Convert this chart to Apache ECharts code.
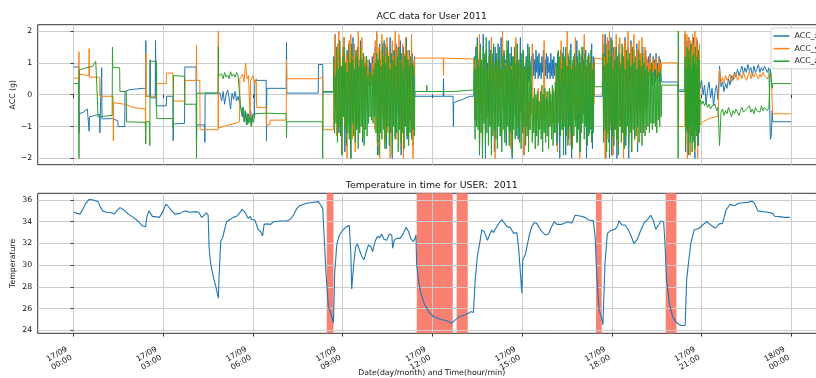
<!DOCTYPE html>
<html><head><meta charset="utf-8">
<script src="https://cdn.jsdelivr.net/npm/echarts@6/dist/echarts.min.js"></script>
<style>html,body{margin:0;padding:0;background:#fff}#c{width:816px;height:378px}</style>
</head><body><div id="c"></div>
<script>
// ---------------- DATA ----------------
const xTickHours = [0, 3, 6, 9, 12, 15, 18, 21, 24];
const xTickLabels = ['17/09\n00:00','17/09\n03:00','17/09\n06:00','17/09\n09:00','17/09\n12:00','17/09\n15:00','17/09\n18:00','17/09\n21:00','18/09\n00:00'];
const accTicks = [-2, -1, 0, 1, 2];
const tempTicks = [24, 26, 28, 30, 32, 34, 36];
const seriesNames = ['ACC_x', 'ACC_y', 'ACC_z'];

// temperature [hour, degC]
const temperature = [
[0,34.87],[0.12,34.77],[0.21,34.7],[0.30,35.1],[0.41,35.7],[0.52,36.06],[0.66,36.0],[0.82,35.85],[0.88,35.45],[0.97,35.0],
[1.10,34.87],[1.27,34.83],[1.36,34.7],[1.44,35.0],[1.55,35.3],[1.68,35.1],[1.83,34.7],[2.0,34.4],[2.11,34.16],[2.22,33.85],
[2.31,33.6],[2.41,33.55],[2.45,34.47],[2.52,35.0],[2.58,34.9],[2.64,34.47],[2.72,34.47],[2.87,34.4],[2.98,34.93],[3.09,35.63],
[3.17,35.4],[3.28,35.0],[3.39,34.7],[3.56,34.77],[3.72,35.0],[3.89,34.87],[4.06,34.93],[4.19,34.87],[4.28,34.4],[4.37,34.6],
[4.43,34.83],[4.50,34.6],[4.53,31.7],[4.58,30.2],[4.67,28.95],[4.76,28.0],[4.84,26.95],[4.87,29.25],[4.92,32.2],[4.98,32.5],
[5.06,33.4],[5.12,34.0],[5.23,34.2],[5.34,34.4],[5.45,34.5],[5.54,34.77],[5.64,35.14],[5.73,34.87],[5.84,34.3],[5.90,34.5],
[5.95,34.2],[6.06,34.16],[6.18,33.24],[6.25,33.1],[6.32,32.7],[6.37,33.76],[6.45,33.8],[6.59,33.76],[6.68,34.0],[6.90,34.07],
[7.12,34.07],[7.24,34.2],[7.35,34.6],[7.46,35.2],[7.57,35.5],[7.8,35.7],[8.02,35.8],[8.19,35.85],[8.24,35.63],[8.33,35.23],
[8.38,32.6],[8.44,29.25],[8.52,26.2],[8.60,25.57],[8.69,24.65],[8.73,29.25],[8.80,31.86],[8.89,32.78],[9.0,33.24],[9.13,33.55],
[9.22,33.64],[9.27,31.1],[9.30,27.8],[9.36,29.87],[9.43,31.7],[9.49,31.95],[9.56,31.4],[9.64,30.8],[9.71,30.5],[9.78,31.15],
[9.86,31.86],[9.94,31.7],[10.0,31.25],[10.08,32.17],[10.16,32.63],[10.25,32.56],[10.30,32.87],[10.38,32.38],[10.47,32.3],[10.56,32.87],
[10.64,32.78],[10.67,31.55],[10.72,32.3],[10.81,32.47],[10.92,32.47],[11.03,32.93],[11.12,33.48],[11.20,33.1],[11.27,32.47],[11.36,32.17],
[11.42,32.47],[11.45,32.78],[11.47,30.17],[11.53,28.64],[11.61,27.41],[11.72,26.49],[11.87,25.72],[12.03,25.26],[12.26,25.02],[12.48,24.87],
[12.65,24.65],[12.76,24.96],[12.92,25.26],[13.09,25.42],[13.20,25.57],[13.28,25.72],[13.37,25.63],[13.43,28.64],[13.50,30.8],[13.59,32.17],
[13.65,33.24],[13.73,33.09],[13.79,33.24],[13.84,32.3],[13.93,32.93],[13.98,33.24],[14.04,33.0],[14.15,33.55],[14.26,34.0],[14.32,34.2],
[14.40,33.9],[14.49,33.55],[14.60,33.48],[14.71,32.93],[14.82,33.0],[14.88,31.7],[14.93,29.7],[14.99,27.41],[15.02,30.48],[15.10,30.94],
[15.15,31.55],[15.24,32.78],[15.32,33.55],[15.40,33.9],[15.49,33.85],[15.58,33.4],[15.66,33.09],[15.77,32.78],[15.88,32.87],[15.96,33.4],
[16.07,34.0],[16.16,33.76],[16.33,33.76],[16.44,33.9],[16.55,34.0],[16.66,33.85],[16.77,34.6],[16.83,34.47],[16.94,34.53],[17.10,34.4],
[17.22,34.16],[17.38,34.1],[17.44,32.6],[17.49,29.25],[17.57,25.9],[17.66,25.1],[17.70,24.5],[17.77,30.2],[17.85,32.93],[17.96,33.18],
[18.10,33.3],[18.18,33.55],[18.24,34.1],[18.33,33.7],[18.44,33.7],[18.52,33.4],[18.63,32.78],[18.74,32.0],[18.85,32.38],[18.97,33.24],
[19.08,33.9],[19.19,34.2],[19.30,34.6],[19.38,34.16],[19.47,33.3],[19.56,33.7],[19.64,34.07],[19.73,34.0],[19.77,32.3],[19.83,28.64],
[19.92,26.5],[20.03,25.26],[20.16,24.7],[20.31,24.44],[20.45,24.44],[20.50,28.64],[20.56,30.17],[20.64,32.0],[20.75,33.24],[20.92,33.4],
[21.03,33.7],[21.17,34.0],[21.31,33.7],[21.46,33.4],[21.59,33.8],[21.70,33.85],[21.82,35.08],[21.95,35.6],[22.10,35.48],[22.24,35.7],
[22.37,35.75],[22.54,35.78],[22.69,35.9],[22.77,35.7],[22.88,35.0],[23.04,34.93],[23.21,34.87],[23.38,34.77],[23.44,34.5],[23.60,34.47],
[23.77,34.4],[23.96,34.4]
];

// shaded (red) periods [startHour, endHour]
const redZones = [[8.465, 8.69], [11.475, 12.68], [12.81, 13.18], [17.47, 17.66], [19.80, 20.16]];

// accelerometer: densely sampled bursts [startHour, endHour] and their readings
const burstSpans = [[8.7, 11.4], [13.4, 17.4], [17.7, 19.65], [20.45, 20.93], [20.95, 23.3]];

const accXSteps = [
[0,0.87],[0.17,0.87],[0.18,-1.2],[0.19,-0.6],[0.32,-0.55],[0.46,-0.45],[0.51,-0.5],[0.52,-1.15],[0.53,-0.7],[0.7,-0.65],
[0.87,-0.62],[0.88,-1.2],[0.89,-0.75],[0.93,-0.75],[0.94,0.85],[0.95,-0.76],[1.3,-0.75],[1.31,-0.8],[1.48,-0.82],[1.49,-1.0],
[1.71,-1.0],[1.72,0.1],[1.85,0.15],[2.1,0.18],[2.33,0.2],[2.41,0.2],[2.415,1.7],[2.42,-0.05],[2.55,-0.05],[2.56,1.1],
[2.57,-0.1],[2.73,-0.1],[2.74,1.7],[2.76,-0.35],[3.1,-0.35],[3.11,-0.05],[3.32,-0.05],[3.33,-1.45],[3.34,-0.92],[3.71,-0.9],
[3.72,0.87],[4.1,0.87],[4.11,-1.5],[4.12,-0.95],[4.38,-0.95],[4.39,-1.5],[4.4,0.05],[4.78,0.05],[4.84,0.1],[4.9,0.05],
[4.95,-0.2],[5.0,0.1],[5.05,-0.3],[5.1,0.0],[5.15,0.15],[5.2,-0.1],[5.25,-0.45],[5.3,0.05],[5.35,-0.15],[5.4,0.1],
[5.45,-0.2],[5.5,-0.05],[5.56,-0.3],[5.6,-0.45],[5.64,-0.7],[5.68,-0.4],[5.72,-0.85],[5.76,-0.55],[5.8,-0.95],[5.84,-0.6],
[5.88,-0.8],[5.92,-0.5],[5.96,-0.9],[6.0,-0.6],[6.05,-0.7],[6.06,0.45],[6.44,0.45],[6.45,-1.45],[6.46,0.2],[7.11,0.2],
[7.12,1.65],[7.13,0.05],[8.18,0.05],[8.19,0.95],[8.33,0.95],[8.34,0.08],[8.69,0.08],
[11.41,-0.05],[12.36,-0.05],[12.37,0.5],[12.38,-0.05],[12.69,-0.05],[12.7,-1.0],[12.71,-0.25],[13.0,-0.15],[13.26,-0.05],[13.38,-0.05],
[17.42,-0.05],[17.68,-0.05],
[19.67,0.4],[20.21,0.4],[20.22,0.15],[20.44,0.15],
[23.33,-1.3],[23.36,-0.5],[23.38,-0.85],[23.99,-0.85]
];
const accXBursts = [
[1.2,0.3,1.9,-0.4,1.5,0.6,1.1,-1.2,1.7,0.4, 0.9,-0.6,1.3,0.2,1.8,-1.8,1.0,0.5,1.4,-0.9, 1.6,0.3,1.0,-2.0,1.4,0.6,1.8,-0.3,0.8,0.2,
 1.2,-1.1,1.5,0.4,1.1,-0.8,1.7,0.3,0.9,-1.5, 1.3,0.5,1.0,-0.2,1.2,0.4,0.9,0.3,1.1,0.5, 1.0,0.4,1.2,0.6,1.3,-0.7,1.5,0.2,1.9,-1.9,
 1.1,0.4,1.6,-1.2,1.0,0.5,1.4,-0.4,1.7,0.1, 0.9,-1.7,1.3,0.6,1.2,-0.5,1.8,0.3,1.0,-2.0, 1.4,0.2,1.1,-1.3,1.6,0.5,0.9,-0.6,1.3,0.4,
 1.7,-1.9,1.0,0.3,1.5,-1.0,1.2,0.6,1.8,-1.4, 1.1,0.2,1.4,-0.8,1.0,0.5,1.3,-1.6,0.9,1.2],
[0.9,-0.8,1.5,0.2,1.8,0.5,1.1,-1.9,1.6,0.4, 0.8,-1.2,1.9,0.3,1.2,-2.0,1.4,0.5,1.0,-0.6, 1.7,0.2,0.9,-1.5,1.3,0.4,1.1,-1.8,1.5,0.6,
 1.0,-0.9,1.6,0.3,1.2,-1.3,1.8,0.5,0.9,-0.4, 1.3,0.6,1.1,-1.6,1.4,0.2,1.7,-1.1,1.0,0.5, 1.5,-2.0,1.2,0.4,0.9,-0.7,1.6,0.3,1.3,-1.4,
 1.0,0.6,1.8,-0.5,1.1,0.2,1.4,-1.9,0.9,0.5, 1.2,-1.0,1.6,0.4,1.3,0.6,1.0,
 1.2,0.5,1.3,0.6,1.1,0.5,1.4,0.7,1.2,0.5, 1.3,0.6,1.0,0.5,1.2,0.7,1.4,0.5,1.1,0.6, 1.3,0.5,1.2,0.7,1.0,0.5,1.3,0.6,1.1,0.5, 1.2,0.6,1.0,
 0.8,-1.6,1.3,0.4,1.1,-2.0,1.4,0.6,1.0,-1.1, 1.5,0.3,1.2,-1.9,0.9,0.5,1.3,-1.4,1.1,0.4, 1.6,-2.0,1.0,0.6,1.2,-0.8,1.1,0.4,1.7,-1.5,
 1.0,0.5,1.3,-1.8,1.2,0.3,1.5,-0.6,0.9,0.5, 1.4,-2.0,1.1,0.6,1.3,-1.2,1.0,0.4,1.6,-1.7, 1.2,0.5],
[1.6,-1.3,0.9,1.9,-2.0,1.2,0.5,1.7,-1.5,1.0, 0.4,1.8,-1.9,1.1,0.6,1.5,-1.1,0.9,1.4,-2.0, 1.2,0.3,1.6,-0.8,1.0,0.5,1.3,-1.2,1.1,0.6,
 1.8,-1.6,1.0,0.4,1.5,-2.0,1.2,0.5,1.7,-0.9, 0.9,0.3,1.4,-1.4,1.1,0.6,1.6,-1.8,1.0,0.4, 1.3,-0.7,1.2,0.5,1.5,-1.2,0.9,0.6,1.4,-0.5,
 1.1,0.4,1.2,0.6,1.3,0.5,1.0,0.3,1.2,0.6, 1.1,0.4,1.3,0.5,1.0,0.6,1.2,0.4,1.1,0.5],
[1.9,-1.8,1.3,0.4,1.7,-2.0,1.0,0.6,1.8,-1.2,1.4,-1.9,1.1,0.5,1.6,-0.8,1.2,-1.5,1.8,0.3,1.0,-2.0,1.5,0.6,1.3,-1.1,1.7,0.4,1.1,-1.6,1.4,0.5],
[0.2,0.45,0.0,0.3,-0.3,0.15,0.4,-0.1,0.2,-0.35,0.1,0.3,-0.15,0.9,
 0.25,0.4,0.1,0.35,0.2,0.5,0.3,0.6,0.45,0.7,0.55,0.8,0.6,0.75,0.9,0.65,0.85,0.7,0.95,0.75,0.85,0.6,0.9,0.7,0.8,0.95,0.7,0.85,0.75,0.9,0.8,0.7,0.85,-1.4]
];

const accYSteps = [
[0,0.52],[0.17,0.52],[0.18,1.35],[0.185,0.4],[0.19,0.65],[0.51,0.6],[0.52,1.45],[0.53,0.55],[0.87,0.55],[0.88,-0.05],
[1.32,-0.05],[1.33,-1.45],[1.34,-0.25],[1.71,-0.3],[1.72,-0.35],[2.0,-0.4],[2.4,-0.45],[2.41,-1.5],[2.415,1.3],[2.42,-0.05],
[2.77,-0.05],[2.78,0.35],[3.1,0.35],[3.11,0.68],[3.32,0.68],[3.33,-0.2],[3.71,-0.2],[3.72,0.45],[4.1,0.45],[4.11,1.55],
[4.12,0.45],[4.22,0.45],[4.23,-1.1],[4.83,-1.1],[4.84,2.0],[4.85,-1.05],[5.0,-1.0],[5.2,-0.95],[5.4,-0.9],[5.55,-0.85],
[5.56,0.5],[5.6,0.45],[5.65,0.65],[5.7,0.4],[5.75,1.0],[5.8,0.5],[5.85,0.6],[5.9,-0.8],[5.92,0.45],[6.0,0.6],
[6.05,0.35],[6.11,0.5],[6.12,-0.4],[6.44,-0.4],[6.45,-0.95],[6.56,-0.95],[6.57,-0.8],[7.11,-0.8],[7.12,1.1],[7.13,0.5],
[8.18,0.5],[8.33,0.55],[8.34,-1.1],[8.69,-1.1],
[11.41,1.15],[12.36,1.15],[12.37,0.6],[12.38,1.15],[13.38,1.12],
[17.42,1.15],[17.68,1.12],
[19.67,1.0],[20.21,1.0],[20.22,-1.0],[20.44,-1.0],
[23.33,0.65],[23.36,-0.3],[23.38,-0.6],[23.99,-0.6]
];
const accYBursts = [
[1.0,-0.3,1.9,0.4,-1.3,1.6,0.7,2.0,-0.8,1.2, 0.3,-1.9,1.5,0.8,1.8,-1.0,0.6,1.3,-2.0,1.1, 0.4,1.7,-0.6,1.9,0.2,-1.4,1.2,0.9,1.6,-1.8,
 0.7,1.4,-0.9,2.0,0.5,-1.2,1.1,0.6,1.8,-0.4, 0.9,1.2,0.3,1.0,0.6,-0.5,1.1,0.4,0.8,0.5, 0.7,0.3,1.0,0.5,1.3,-1.1,1.7,0.2,2.0,-1.6,
 0.8,1.5,-2.0,1.1,0.4,1.9,-0.7,1.3,0.6,-1.5, 1.6,0.3,1.8,-1.2,0.9,1.4,-2.0,1.0,0.5,1.7, -0.9,1.2,0.7,2.0,-1.4,0.8,1.5,-0.3,1.9,0.2,
 -1.7,1.1,0.6,1.6,-2.0,1.3,0.4,1.8,-1.0,0.9, 1.4,-1.6,0.7,1.2,-0.5,1.9,0.3,-2.0,1.0,0.6],
[0.9,-0.4,1.1,0.2,-0.8,0.7,0.3,1.9,-0.6,0.8, 1.0,-1.9,0.5,0.9,-0.3,1.1,0.2,-0.7,0.8,0.4, 1.0,-0.9,0.3,1.8,-0.5,0.9,0.1,1.0,-2.0,0.7,
 0.4,1.1,-0.6,0.6,0.9,-0.8,0.7,0.2,2.0,-0.4, 0.8,0.5,1.0,-0.7,0.6,0.9,-0.2,1.1,0.3,-1.7, 0.9,0.6,1.0,-0.5,0.7,0.3,1.8,-0.9,0.8,0.5,
 1.0,-0.6,0.6,0.9,-0.4,1.1,0.2,-1.9,0.8,0.4, -0.3,-1.0,0.1,-0.7,-0.2,-1.1,0.0,-0.6,1.6,-0.4, -0.9,0.1,-0.5,-1.2,-0.1,-0.8,0.2,-0.6,-1.0,-0.2,
 -0.7,0.0,-1.1,-0.3,1.7,-0.5,-0.9,0.1,-0.6,-0.2, -0.4,-1.0,0.1,-0.7,-0.2,-0.9,0.2,-0.5,-1.1,0.0, 0.9,0.2,-1.8,0.8,1.0,-0.4,0.6,1.7,-0.7,0.9,
 0.4,1.1,-0.9,0.7,0.3,2.0,-0.5,0.8,1.0,-1.6, 0.6,0.9,-0.3,1.1,0.5,-0.8,1.8,0.4,0.9,-0.6, 1.0,0.3,-2.0,0.8,0.6,1.1,-0.5,0.9,1.9,-0.7,
 0.8,0.4,1.0,-0.9,0.7,1.2,-0.4,0.9,0.5,1.0, 0.7,-0.3],
[1.9,-0.6,1.2,-2.0,1.6,0.4,1.8,-1.4,0.9,2.0, -1.1,1.3,0.2,1.7,-1.9,1.0,1.5,-0.8,1.9,0.3, -1.6,1.2,0.7,1.8,-1.0,1.1,0.4,1.5,-2.0,0.9,
 1.7,-0.5,1.3,0.6,2.0,-1.3,1.0,0.8,1.6,-1.8, 1.2,0.4,1.9,-0.9,1.1,0.6,1.4,-1.5,0.8,1.7, -0.7,1.3,0.5,1.8,-1.2,1.0,0.7,1.5,-0.4,1.2,
 1.1,0.5,1.0,0.6,1.2,0.4,0.9,0.7,1.1,0.6, 1.0,0.8,1.2,0.5,0.9,0.7,1.1,0.6,1.0,0.8],
[2.0,-1.5,1.6,0.8,1.9,-2.0,1.3,1.0,1.8,-1.2,1.5,-1.9,1.7,0.9,1.4,-1.0,1.9,-0.6,1.2,1.6,-1.8,2.0,0.7,1.5,-1.3,1.8,0.9,-2.0,1.4,1.1,-0.8,1.6],
[-0.95,-0.9,-0.85,-0.9,-0.8,-0.85,-0.75,-0.8,-0.72,-0.78,-0.7,-0.75,-0.68,0.8,
 0.4,0.55,0.35,0.6,0.45,0.5,0.65,0.4,0.6,0.5,0.7,0.45,0.55,0.65,0.5,0.7,0.55,0.45,0.6,0.75,0.5,0.65,0.55,0.7,0.6,0.5,0.65,0.55,0.7,0.6,0.65,0.5,0.6,0.65]
];

const accZSteps = [
[0,0.35],[0.17,0.35],[0.18,-2.0],[0.19,0.78],[0.45,0.85],[0.65,0.9],[0.74,1.05],[0.75,0.88],[0.81,0.9],[0.82,-0.7],
[0.83,-0.65],[1.29,-0.65],[1.3,1.5],[1.31,0.85],[1.54,0.85],[1.55,0.1],[1.76,0.1],[1.77,-0.85],[2.4,-0.87],[2.41,-1.55],
[2.42,-0.85],[2.53,-0.85],[2.55,-1.6],[2.56,1.05],[2.77,1.05],[2.78,-0.75],[3.32,-0.75],[3.33,-1.05],[3.34,0.6],[3.71,0.58],
[3.72,-0.3],[4.1,-0.3],[4.11,-2.0],[4.12,0.05],[4.83,0.05],[4.84,1.5],[4.85,0.6],[4.9,0.55],[4.95,0.65],[5.0,0.5],
[5.05,0.7],[5.1,0.55],[5.15,0.62],[5.2,0.5],[5.25,0.72],[5.3,0.58],[5.35,0.65],[5.4,0.55],[5.45,0.7],[5.5,0.6],
[5.55,0.62],[5.58,-0.3],[5.62,-0.6],[5.66,-0.4],[5.7,-0.85],[5.74,-0.5],[5.78,-0.95],[5.82,-0.6],[5.86,-0.9],[5.9,-0.7],
[5.94,-1.0],[5.98,-0.65],[6.02,-0.85],[6.06,-0.6],[6.1,-0.55],[6.45,-0.58],[6.46,-0.6],[7.11,-0.6],[7.12,-1.35],[7.13,-0.85],
[8.32,-0.85],[8.33,-2.0],[8.34,0.1],[8.69,0.1],
[11.41,0.1],[11.8,0.1],[11.81,0.3],[11.82,0.1],[12.69,0.1],[12.7,0.15],[13.38,0.15],
[17.42,0.25],[17.68,0.25],
[19.67,0.3],[20.21,0.3],[20.215,-2.0],[20.22,2.0],[20.225,0.1],[20.44,0.1],
[23.33,0.8],[23.36,0.2],[23.38,0.35],[23.99,0.35]
];
const accZBursts = [
[1.1,-1.2,0.6,-0.9,1.4,-1.5,0.8,-1.0,1.7,-1.3, 0.9,-1.9,1.2,-0.7,1.5,-1.1,1.0,-1.6,0.7,-1.2, 1.3,-1.4,1.0,-2.0,1.6,-0.9,1.1,-1.3,0.8,-1.5,
 1.4,-1.1,1.2,-1.7,0.9,-1.2,1.5,-1.0,1.1,-1.4, 1.3,-1.6,0.9,-1.1,1.2,-1.3,0.6,-0.9,0.8,-0.7, 0.7,-0.8,0.6,-0.9,0.8,-0.7,1.0,-1.2,1.3,-1.5,
 1.1,-1.9,1.4,-1.2,0.9,-1.4,1.6,-1.1,1.2,-1.7, 1.0,-1.3,1.5,-1.0,1.2,-1.6,0.8,-1.2,1.3,-1.9, 1.1,-1.0,1.4,-1.4,0.9,-1.2,1.2,-1.8,1.5,-1.1,
 1.0,-1.5,1.3,-1.2,0.8,-1.7,1.2,-1.0,1.4,-1.3, 1.1,-1.6,0.9,-1.2,1.2,-1.4,1.0,-1.1,0.9,-1.3],
[1.2,-1.4,0.8,-1.0,1.6,-1.1,0.9,-1.8,1.4,-1.2, 1.1,-2.0,1.5,-0.9,1.3,-1.5,1.8,-1.2,0.8,-1.6, 1.2,-1.0,1.4,-1.9,1.0,-1.3,1.6,-1.1,0.9,-1.4,
 1.3,-1.7,1.1,-1.0,1.5,-1.3,0.8,-1.8,1.2,-1.1, 1.4,-1.5,0.9,-1.2,1.7,-1.0,1.1,-1.6,1.3,-1.2, 0.8,-1.9,1.2,-1.1,1.5,-1.4,1.0,-1.3,1.6,-1.0,
 1.1,-1.5,0.9,-1.7,1.3,-1.2,1.4,-1.0,0.8,-1.6, 1.2,-1.3,1.0,-1.8,1.5,-1.1,0.9,
 0.1,-1.5,-0.1,-1.2,0.2,-1.7,0.0,-1.3,0.1,-1.6, -0.2,-1.1,0.1,-1.4,0.3,-1.8,0.0,-1.2,0.2,-1.5, -0.1,-1.3,0.1,-1.7,0.2,-1.0,0.0,-1.4,0.3,-1.6, 0.1,-1.2,0.4,
 -1.2,1.0,-1.5,1.4,-0.9,1.2,-1.3,0.8,-1.1,1.3, -1.9,1.1,-1.0,1.5,-1.3,0.9,-1.6,1.2,-1.0,1.4, -1.2,0.8,-1.7,1.1,-1.3,1.3,-1.0,0.9,-1.5,1.2,
 -1.1,1.4,-1.8,1.0,-1.2,1.5,-0.9,1.1,-1.4,1.3, -1.0,0.9,-1.6,1.2,-1.3,1.0,-1.1,1.4,-1.5,0.8,-1.2,1.0],
[1.3,-1.5,0.9,-1.1,1.6,-1.8,1.0,-1.2,1.4,-2.0, 1.2,-0.9,1.7,-1.3,0.8,-1.6,1.1,-1.1,1.5,-1.4, 1.0,-1.9,1.3,-1.0,0.9,-1.5,1.6,-1.2,1.2,-1.7,
 0.8,-1.3,1.4,-1.0,1.1,-1.6,1.3,-1.2,0.9,-1.8, 1.5,-1.1,1.0,-1.4,1.2,-1.3,0.8,-1.0,1.4,-1.5, 1.1,-1.2,0.9,-1.6,1.3,-1.0,1.0,-1.3,0.8,-1.1,
 0.9,-1.0,0.7,-1.2,0.8,-0.9,1.0,-1.1,0.7,-0.9, 0.8,-1.0,0.6,-1.2,0.9,-0.8,0.7,-1.0,0.8,-0.7],
[1.2,-1.6,0.8,-1.1,1.5,-1.2,0.9,-1.9,1.4,-1.0,1.1,-1.5,1.6,-1.3,0.8,-1.8,1.2,-0.9,1.3,-1.4,1.0,-1.7,1.5,-1.1,0.9,-1.3,1.2,-1.6,1.4,-1.0,1.1,-1.2],
[-0.15,-0.3,-0.2,-0.35,-0.25,-0.4,-0.3,-0.45,-0.35,-0.4,-0.3,-0.5,-0.4,-1.6,
 -0.55,-0.45,-0.65,-0.5,-0.6,-0.4,-0.55,-0.7,-0.5,-0.6,-0.45,-0.55,-0.65,-0.5,-0.4,-0.55,-0.6,-0.45,-0.5,-0.35,-0.55,-0.45,-0.6,-0.4,-0.5,-0.45,-0.55,-0.35,-0.5,-0.4,-0.45,-0.5,-0.4,0.8]
];

// ---------------- BUILD ----------------
function buildAcc(steps, bursts) {
  const pts = steps.map(p => [p[0], p[1]]);
  bursts.forEach((vals, k) => {
    const a = burstSpans[k][0], b = burstSpans[k][1];
    const dt = (b - a) / (vals.length - 1);
    vals.forEach((v, i) => pts.push([a + i * dt, v]));
  });
  pts.sort((p, q) => p[0] - q[0]);
  return pts;
}

const FONT = 'DejaVu Sans';
const TXT = '#111';
const GRIDC = '#cdcdcd';
const AX = '#333';
const X_MIN = -1.2, X_MAX = 25.15;
const COLORS = ['#1f77b4', '#ff7f0e', '#2ca02c'];

function xAxisDef(gi, labels) {
  return {
    type: 'value', gridIndex: gi, min: X_MIN, max: X_MAX, z: 1.5,
    axisLine: { show: false },
    axisTick: { show: true, customValues: xTickHours, length: 3.3, lineStyle: { color: AX, width: 1 } },
    axisLabel: {
      show: labels, customValues: xTickHours, rotate: 30, margin: 17,
      padding: [0, 5.2, 21, 0],
      formatter: v => { const i = xTickHours.indexOf(Math.round(v)); return i >= 0 ? xTickLabels[i] : ''; },
      fontFamily: FONT, fontSize: 7.8, lineHeight: 9.4, color: TXT
    },
    splitLine: { show: true, lineStyle: { color: GRIDC, width: 1 } },
    name: labels ? 'Date(day/month) and Time(hour/min)' : '',
    nameLocation: 'middle', nameGap: 35.5, nameMoveOverlap: false,
    nameTextStyle: { fontFamily: FONT, fontSize: 7.8, color: TXT }
  };
}
function yAxisDef(gi, min, max, ticks, name) {
  return {
    type: 'value', gridIndex: gi, min: min, max: max, z: 1.5,
    axisLine: { show: false },
    axisTick: { show: true, customValues: ticks, length: 3, lineStyle: { color: AX, width: 1 } },
    axisLabel: {
      customValues: ticks, margin: 5.5,
      formatter: v => String(Math.round(v)).replace('-', '\u2212'),
      fontFamily: FONT, fontSize: 7.8, color: TXT
    },
    splitLine: { show: true, lineStyle: { color: GRIDC, width: 1 } },
    name: name, nameLocation: 'middle', nameGap: 21, nameMoveOverlap: false,
    nameTextStyle: { fontFamily: FONT, fontSize: 7.8, color: TXT }
  };
}

const accSets = [[accXSteps, accXBursts], [accYSteps, accYBursts], [accZSteps, accZBursts]];
const series = accSets.map((s, i) => ({
  name: seriesNames[i], type: 'line', xAxisIndex: 0, yAxisIndex: 0,
  data: buildAcc(s[0], s[1]), showSymbol: false, symbol: 'none', z: 2,
  color: COLORS[i], lineStyle: { width: 1, color: COLORS[i] }
}));
series.push({
  name: 'Temperature', type: 'line', xAxisIndex: 1, yAxisIndex: 1,
  data: temperature, showSymbol: false, symbol: 'none', z: 2,
  color: COLORS[0], lineStyle: { width: 1.1, color: COLORS[0] },
  markArea: {
    silent: true, z: 1,
    itemStyle: { color: '#fa8072', opacity: 1 },
    data: redZones.map(z => [{ xAxis: z[0] }, { xAxis: z[1] }])
  }
});

const gridBase = { left: 37.7, width: 788, height: 140, show: true, borderColor: AX, borderWidth: 1,
  backgroundColor: 'transparent', containLabel: false, outerBoundsMode: 'none' };
const option = {
  animation: false,
  backgroundColor: '#fff',
  textStyle: { fontFamily: FONT },
  grid: [Object.assign({ top: 24.7 }, gridBase), Object.assign({ top: 193.3 }, gridBase)],
  xAxis: [xAxisDef(0, false), xAxisDef(1, true)],
  yAxis: [yAxisDef(0, -2.2, 2.2, accTicks, 'ACC (g)'), yAxisDef(1, 23.72, 36.62, tempTicks, 'Temperature')],
  legend: {
    data: seriesNames, orient: 'vertical', left: 771, top: 28,
    icon: 'rect', itemWidth: 16, itemHeight: 1.5, itemGap: 3.6,
    padding: [3.5, 6, 3, 2.5], backgroundColor: 'rgba(255,255,255,0.85)',
    borderColor: '#d6d6d6', borderWidth: 1, borderRadius: 3,
    textStyle: { fontFamily: FONT, fontSize: 7.8, lineHeight: 9, color: TXT }
  },
  graphic: [
    { type: 'text', x: 431.7, y: 17, style: { text: 'ACC data for User 2011', align: 'center', verticalAlign: 'middle', fontFamily: FONT, fontSize: 9.4, fill: TXT } },
    { type: 'text', x: 431.7, y: 185.6, style: { text: 'Temperature in time for USER:  2011', align: 'center', verticalAlign: 'middle', fontFamily: FONT, fontSize: 9.4, fill: TXT } }
  ],
  series: series
};

const chart = echarts.init(document.getElementById('c'), null, { renderer: 'canvas' });
chart.setOption(option);
</script>
</body></html>
